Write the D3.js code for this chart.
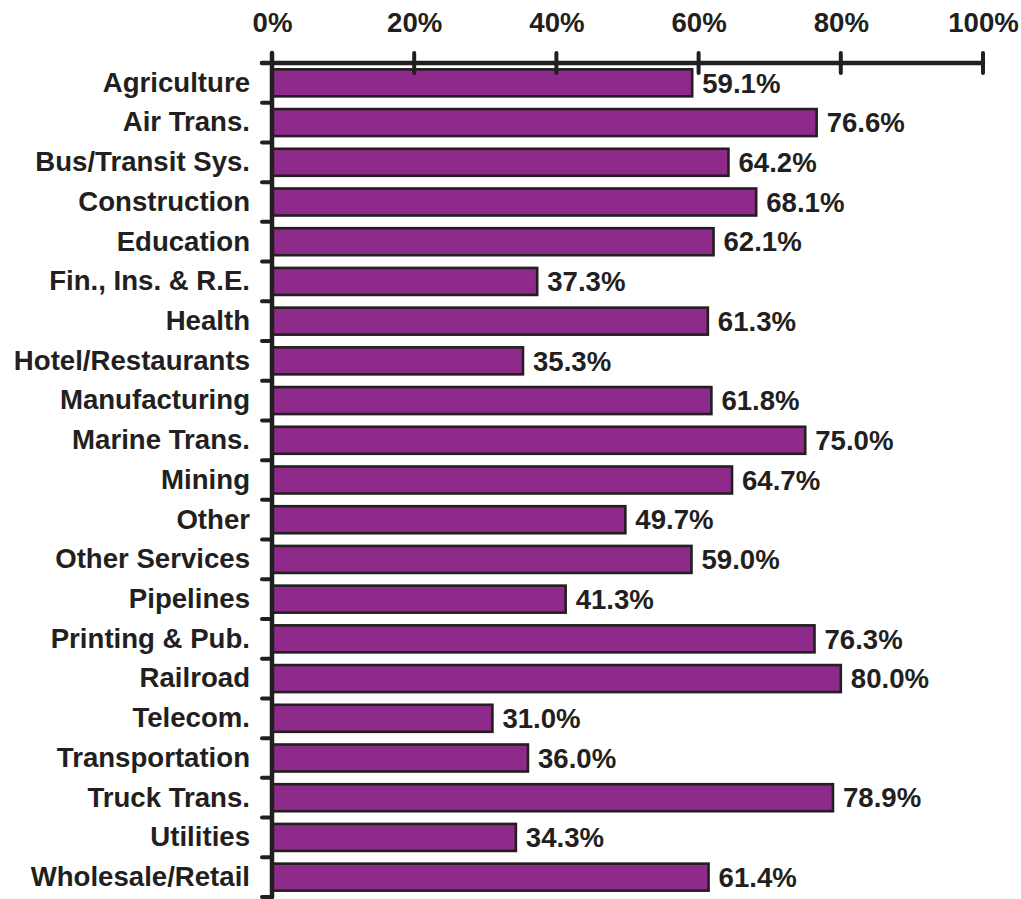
<!DOCTYPE html>
<html>
<head>
<meta charset="utf-8">
<script src="https://cdn.jsdelivr.net/npm/d3@7"></script>
<style>
  html, body { margin: 0; padding: 0; background: #fff; }
  svg { display: block; }
  text { font-family: "Liberation Sans", Arial, Helvetica, sans-serif; font-weight: bold; fill: #231f20; }
</style>
</head>
<body>
<svg id="chart" width="1021" height="899"></svg>
<script>
// Industry categories, top to bottom
const categories = [
  "Agriculture", "Air Trans.", "Bus/Transit Sys.", "Construction", "Education",
  "Fin., Ins. & R.E.", "Health", "Hotel/Restaurants", "Manufacturing", "Marine Trans.",
  "Mining", "Other", "Other Services", "Pipelines", "Printing & Pub.",
  "Railroad", "Telecom.", "Transportation", "Truck Trans.", "Utilities",
  "Wholesale/Retail"
];

// Share per industry, in percent
const values = [
  59.1, 76.6, 64.2, 68.1, 62.1,
  37.3, 61.3, 35.3, 61.8, 75.0,
  64.7, 49.7, 59.0, 41.3, 76.3,
  80.0, 31.0, 36.0, 78.9, 34.3,
  61.4
];

// Axis tick values (fractions of 1)
const xTicks = [0, 0.2, 0.4, 0.6, 0.8, 1.0];

const data = categories.map((c, i) => ({ category: c, value: values[i] }));

const svg = d3.select("#chart");
const ink = "#231f20";
const barFill = "#8d2a8a";
const fontSize = 27.6;

const plotLeft = 272, plotRight = 983, plotTop = 63, plotBottom = 897;
const padInner = 0.32;

const x = d3.scaleLinear().domain([0, 1]).range([plotLeft, plotRight]);
const y = d3.scaleBand()
  .domain(categories)
  .range([plotTop, plotBottom])
  .paddingInner(padInner)
  .paddingOuter(padInner / 2);

const step = y.step();

// Bars
svg.append("g")
  .selectAll("rect")
  .data(data)
  .join("rect")
  .attr("x", x(0))
  .attr("y", d => y(d.category))
  .attr("width", d => x(d.value / 100) - x(0))
  .attr("height", y.bandwidth())
  .attr("fill", barFill)
  .attr("stroke", ink)
  .attr("stroke-width", 2.6);

// Value labels at bar ends
svg.append("g")
  .selectAll("text")
  .data(data)
  .join("text")
  .attr("x", d => x(d.value / 100) + 10)
  .attr("y", d => y(d.category) + y.bandwidth() / 2)
  .attr("dy", "0.35em")
  .attr("font-size", fontSize)
  .text(d => d.value.toFixed(1) + "%");

// Top axis: labels from d3.axisTop, tick marks drawn across the line
const xAxis = svg.append("g")
  .attr("transform", `translate(0,${plotTop})`)
  .call(d3.axisTop(x).tickValues(xTicks).tickFormat(d3.format(".0%")).tickSize(0).tickPadding(31));
xAxis.select(".domain").remove();
xAxis.selectAll("text")
  .attr("font-size", fontSize)
  .attr("font-family", null)
  .attr("fill", ink);

svg.append("g")
  .selectAll("line")
  .data(xTicks.slice(1))
  .join("line")
  .attr("x1", d => x(d)).attr("x2", d => x(d))
  .attr("y1", plotTop - 10).attr("y2", plotTop + 10)
  .attr("stroke", ink)
  .attr("stroke-width", 4)
  .attr("stroke-linecap", "round");

// Top axis line
svg.append("line")
  .attr("x1", plotLeft - 10).attr("x2", plotRight)
  .attr("y1", plotTop).attr("y2", plotTop)
  .attr("stroke", ink)
  .attr("stroke-width", 4.5)
  .attr("stroke-linecap", "round");

// Left axis: category labels from d3.axisLeft
const yAxis = svg.append("g")
  .attr("transform", `translate(${plotLeft - 22},0)`)
  .call(d3.axisLeft(y).tickSize(0).tickPadding(0));
yAxis.select(".domain").remove();
yAxis.selectAll("text")
  .attr("font-size", fontSize)
  .attr("font-family", null)
  .attr("fill", ink);

// Left axis line and boundary ticks between categories
svg.append("line")
  .attr("x1", plotLeft).attr("x2", plotLeft)
  .attr("y1", plotTop - 10).attr("y2", plotBottom)
  .attr("stroke", ink)
  .attr("stroke-width", 4.5)
  .attr("stroke-linecap", "round");

const boundaries = d3.range(categories.length + 1).map(i => plotTop + i * step);
svg.append("g")
  .selectAll("line")
  .data(boundaries)
  .join("line")
  .attr("x1", plotLeft - 10).attr("x2", plotLeft)
  .attr("y1", d => d).attr("y2", d => d)
  .attr("stroke", ink)
  .attr("stroke-width", 4)
  .attr("stroke-linecap", "round");
</script>
</body>
</html>
